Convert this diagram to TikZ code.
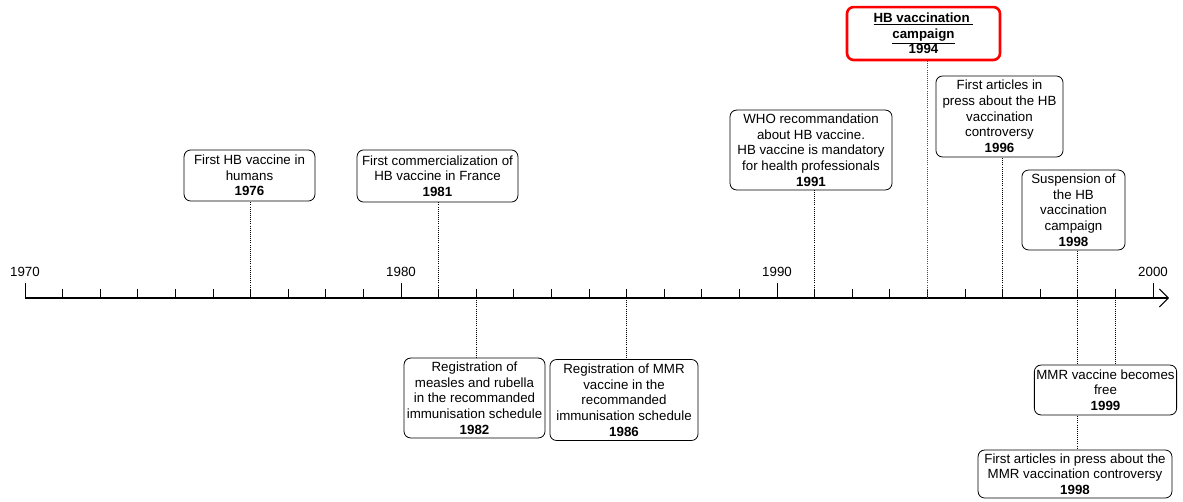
\documentclass[tikz,border=0pt]{standalone}
\usepackage{fontspec}
\setmainfont{Liberation Sans}
\usetikzlibrary{arrows.meta,backgrounds}

\begin{document}
\begin{tikzpicture}[x=0.026667cm, y=-0.026667cm,
  font=\fontsize{10.1}{11.9}\selectfont,
  evt/.style={draw, rounded corners=5pt, fill=white, align=center, inner sep=1.5pt, line width=0.6pt},
  hot/.style={evt, draw=red, line width=2pt},
  leader/.style={densely dotted, line width=0.6pt}]
\useasboundingbox (0,0) rectangle (1183,501);

% time axis
\draw[line width=0.8pt, -{Straight Barb[length=2.4mm,width=4.8mm]}] (25,298) -- (1169,298);
\foreach \n in {0,...,30} {
  \pgfmathsetmacro{\xx}{25+37.6*\n}
  \pgfmathtruncatemacro{\m}{mod(\n,10)}
  \pgfmathtruncatemacro{\yr}{1970+\n}
  \coordinate (y\n) at (\xx,298);
  \ifnum\m=0
    \draw[line width=0.6pt] (y\n) -- ++(0,-15);
    \node (lbl\n) at (\xx,272) {\yr};
  \else
    \draw[line width=0.6pt] (y\n) -- ++(0,-9);
  \fi
}

% events above the axis
\node[evt, minimum width=3.49cm, minimum height=1.36cm] (e76) at (249.5,175.5) {First HB vaccine in\\ humans\\ \textbf{1976}};
\node[evt, minimum width=4.29cm, minimum height=1.39cm] (e81) at (437.5,176) {First commercialization of\\ HB vaccine in France\\ \textbf{1981}};
\node[evt, minimum width=4.32cm, minimum height=2.13cm] (e91) at (811,150) {WHO recommandation\\ about HB vaccine.\\ HB vaccine is mandatory\\ for health professionals\\ \textbf{1991}};
\node[hot, minimum width=4.08cm, minimum height=1.41cm] (e94) at (923.5,33.5) {\textbf{\underline{HB vaccination\ }}\\ \textbf{\underline{campaign}}\\ \textbf{1994}};
\node[evt, minimum width=3.39cm, minimum height=2.16cm] (e96) at (999.5,116.5) {First articles in\\ press about the HB\\ vaccination\\ controversy\\ \textbf{1996}};
\node[evt, minimum width=2.75cm, minimum height=2.13cm] (e98s) at (1073.5,210) {Suspension of\\ the HB\\ vaccination\\ campaign\\ \textbf{1998}};

% events below the axis
\node[evt, minimum width=3.76cm, minimum height=2.13cm] (e82) at (474.5,398) {Registration of\\ measles and rubella\\ in the recommanded\\ immunisation schedule\\ \textbf{1982}};
\node[evt, minimum width=3.95cm, minimum height=2.16cm] (e86) at (624,400) {Registration of MMR\\ vaccine in the\\ recommanded\\ immunisation schedule\\ \textbf{1986}};
\node[evt, minimum width=3.71cm, minimum height=1.33cm] (e99) at (1105.5,390) {MMR vaccine becomes\\ free\\ \textbf{1999}};
\node[evt, minimum width=5.17cm, minimum height=1.28cm] (e98m) at (1075,474) {First articles in press about the\\ MMR vaccination controversy\\ \textbf{1998}};

% leaders
\draw[leader] (y6) -- (y6 |- e76.south);
\draw[leader] (y11) -- (y11 |- e81.south);
\draw[leader] (y21) -- (y21 |- e91.south);
\draw[leader, red] (y24) -- (y24 |- e94.south);
\draw[leader] (y26) -- (y26 |- e96.south);
\draw[leader] (y28) -- (y28 |- e98s.south);
\draw[leader] (y12) -- (y12 |- e82.north);
\draw[leader] (y16) -- (y16 |- e86.north);
\draw[leader] (y29) -- (y29 |- e99.north);
\begin{scope}[on background layer]
\draw[leader] (y28) -- (y28 |- e98m.north);
\end{scope}
\end{tikzpicture}
\end{document}
